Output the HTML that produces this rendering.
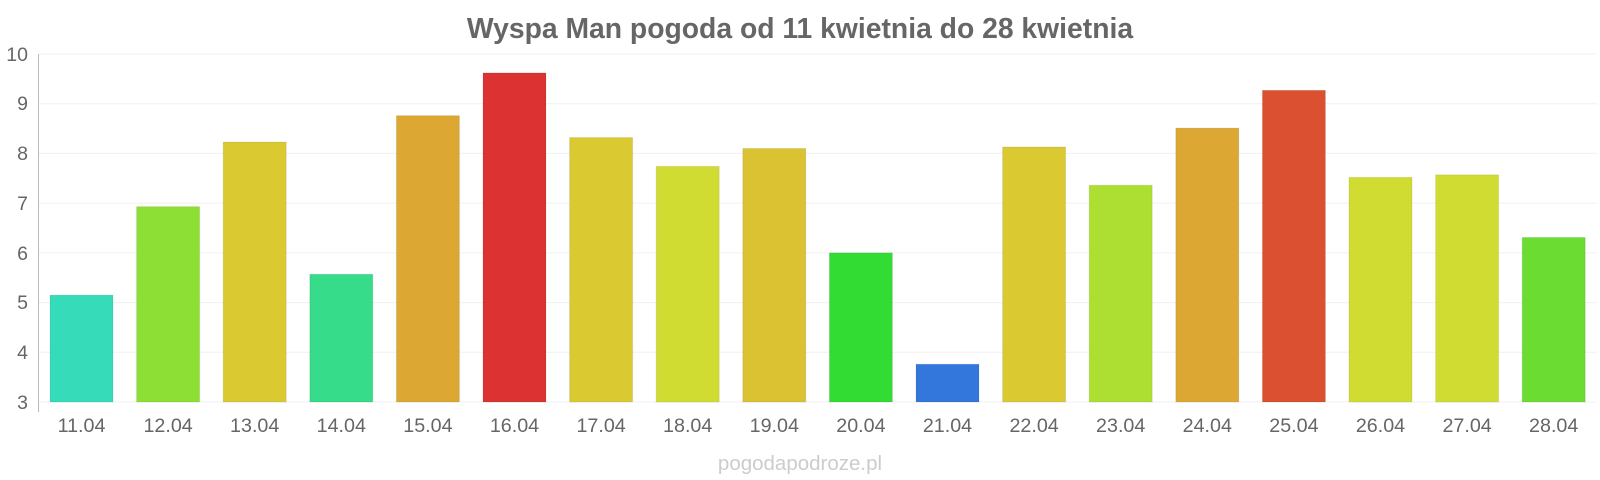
<!DOCTYPE html>
<html><head><meta charset="utf-8"><style>
html,body{margin:0;padding:0;background:#fff;width:1600px;height:480px;overflow:hidden}
svg{display:block}
text{font-family:"Liberation Sans",sans-serif}
</style></head><body>
<svg width="1600" height="480" viewBox="0 0 1600 480">
<text x="800" y="38" text-anchor="middle" font-size="28.3" font-weight="bold" fill="#666">Wyspa Man pogoda od 11 kwietnia do 28 kwietnia</text>
<g stroke="#f0f0f0" stroke-width="1">
<line x1="39" x2="1597" y1="54" y2="54"/><line x1="39" x2="1597" y1="103.7" y2="103.7"/>
<line x1="39" x2="1597" y1="153.4" y2="153.4"/><line x1="39" x2="1597" y1="203.1" y2="203.1"/>
<line x1="39" x2="1597" y1="252.9" y2="252.9"/><line x1="39" x2="1597" y1="302.6" y2="302.6"/>
<line x1="39" x2="1597" y1="352.3" y2="352.3"/><line x1="39" x2="1597" y1="402" y2="402"/>
</g>
<line x1="38.5" x2="38.5" y1="54" y2="412" stroke="#bbb"/>
<g font-size="19.5" fill="#666" text-anchor="end">
<text x="28" y="61">10</text><text x="28" y="110">9</text><text x="28" y="160">8</text><text x="28" y="210">7</text>
<text x="28" y="260">6</text><text x="28" y="309">5</text><text x="28" y="359">4</text><text x="28" y="409">3</text>
</g>
<g id="bars"></g>
<g id="labels" font-size="19.7" fill="#666" text-anchor="middle"></g>
<text x="800" y="470" text-anchor="middle" font-size="20.5" fill="#ccc">pogodapodroze.pl</text>
</svg>
<script>
var v=[5.15,6.93,8.23,5.57,8.76,9.62,8.32,7.74,8.10,6.00,3.76,8.13,7.36,8.51,9.27,7.52,7.57,6.31];
var c=["#36dcb9","#8ddf36","#dbc932","#36dc8a","#dca833","#dc3232","#dbc932","#d1dc32","#dbc232","#33dc33","#3377dc","#dbc932","#addf32","#dca833","#dc5032","#d1dc32","#d1dc32","#6adc32"];
var ns="http://www.w3.org/2000/svg",b=document.getElementById("bars"),l=document.getElementById("labels");
for(var i=0;i<18;i++){var x=38+i*86.6+12;var y=402-(v[i]-3)*49.71;
var r=document.createElementNS(ns,"rect");r.setAttribute("x",x);r.setAttribute("y",y);r.setAttribute("width",63);r.setAttribute("height",402-y);r.setAttribute("fill",c[i]);r.setAttribute("stroke","rgba(0,0,0,0.08)");b.appendChild(r);
var t=document.createElementNS(ns,"text");t.setAttribute("x",x+31.5);t.setAttribute("y",432);var d=11+i;t.textContent=d+".04";l.appendChild(t);}
</script>
</body></html>
